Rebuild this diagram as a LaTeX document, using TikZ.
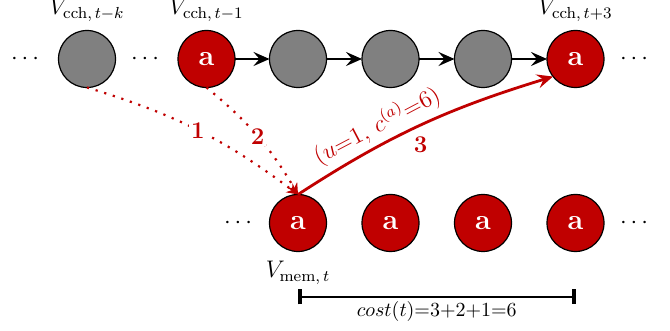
\documentclass[tikz,border=0pt]{standalone}
\usetikzlibrary{arrows.meta}
\definecolor{myred}{RGB}{192,0,0}
\definecolor{mygray}{RGB}{128,128,128}
\begin{document}
\begin{tikzpicture}[x=0.5pt,y=0.5pt,
  cnode/.style={circle,draw=black,line width=0.6pt,minimum size=28.5pt,inner sep=0pt,outer sep=0pt},
  graynode/.style={cnode,fill=mygray},
  rednode/.style={cnode,fill=myred,text=white,font=\Large\bfseries},
  dotsnode/.style={inner sep=0pt,font=\large},
  vlabel/.style={anchor=base,inner sep=0pt,font=\fontsize{11.5}{13}\selectfont},
  chain/.style={line width=1.4pt,-{Stealth[length=8pt,width=7pt,inset=3pt]}},
  redarrow/.style={myred,line width=1.4pt,-{Stealth[length=8pt,width=7pt,inset=3pt]}},
  dotarrow/.style={myred,line width=1.1pt,dash pattern=on 1.1pt off 3.4pt,-{Stealth[length=5.5pt,width=5.5pt]}},
  numlabel/.style={font=\large\bfseries,text=myred,inner sep=1pt},
  costbar/.style={line width=0.8pt,{Bar[width=7.5pt,line width=2pt]}-{Bar[width=7.5pt,line width=2pt]}}
]
\useasboundingbox (0,0) rectangle (670,331);
% top row
\node[dotsnode] (d1) at (25,272) {$\cdots$};
\node[graynode] (n1) at (87,272) {};
\node[dotsnode] (d2) at (145,272) {$\cdots$};
\node[rednode] (n2) at (206.5,272) {a};
\node[graynode] (n3) at (298,272) {};
\node[graynode] (n4) at (390.5,272) {};
\node[graynode] (n5) at (483,272) {};
\node[rednode] (n6) at (575.5,272) {a};
\node[dotsnode] (d3) at (634,272) {$\cdots$};
% bottom row
\node[dotsnode] (d4) at (238,108) {$\cdots$};
\node[rednode] (m1) at (298,108) {a};
\node[rednode] (m2) at (390.5,108) {a};
\node[rednode] (m3) at (483,108) {a};
\node[rednode] (m4) at (575.5,108) {a};
\node[dotsnode] (d5) at (634,108) {$\cdots$};
% labels
\node[vlabel] (l1) at (87,316) {$V_{\mathrm{cch},\,t-k}$};
\node[vlabel] (l2) at (206.5,316) {$V_{\mathrm{cch},\,t-1}$};
\node[vlabel] (l3) at (575.5,316) {$V_{\mathrm{cch},\,t+3}$};
\node[vlabel] (l4) at (298,53) {$V_{\mathrm{mem},\,t}$};
% chain arrows
\draw[chain] (n2) -- (n3);
\draw[chain] (n3) -- (n4);
\draw[chain] (n4) -- (n5);
\draw[chain] (n5) -- (n6);
% dotted arrows
\draw[dotarrow] (n1.south) to[bend left=10] node[numlabel,fill=white]{1} (m1.north);
\draw[dotarrow] (n2.south) to[bend left=10] node[numlabel,fill=white]{2} (m1.north);
% red arrow
\draw[redarrow] (m1.north) to[out=33,in=197]
  node[pos=0.35,sloped,above,text=myred,inner sep=2pt,font=\fontsize{11.5}{13}\selectfont]{$(u{=}1,\, c^{(a)}{=}6)$}
  node[pos=0.5,below=4pt,numlabel]{3} (n6.218);
% cost
\coordinate (c1) at (298,34);
\coordinate (c2) at (575.5,34);
\draw[costbar] (c1) -- node[below=1pt,inner sep=1pt]{$cost(t){=}3{+}2{+}1{=}6$} (c2);
\end{tikzpicture}
\end{document}
